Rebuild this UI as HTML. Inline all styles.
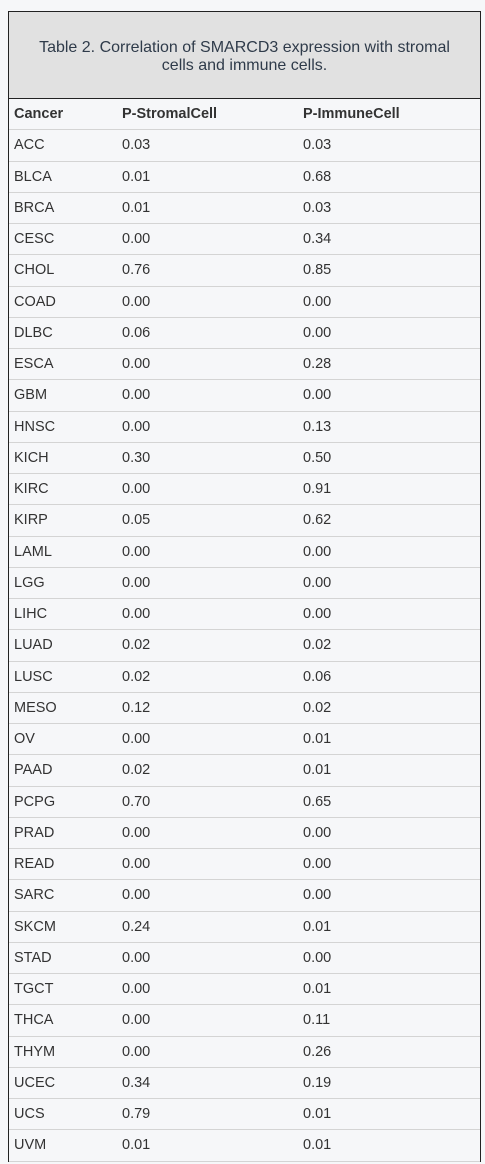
<!DOCTYPE html>
<html><head><meta charset="utf-8"><style>
html,body{margin:0;padding:0;background:#f6f7f9;width:485px;height:1164px;overflow:hidden;font-family:"Liberation Sans",Arial,sans-serif;color:#333;}
.wrap{position:absolute;left:8px;top:11px;width:471px;border:1px solid #222;border-bottom:none;}
.cap{height:87px;background:#e1e1e1;border-bottom:1px solid #222;display:flex;align-items:center;justify-content:center;text-align:center;font-size:16px;line-height:18px;padding:4px 20px 0;color:#2f3b4a;box-sizing:border-box;}
table{border-collapse:collapse;width:100%;font-size:14.5px;}
td,th{height:30.25px;padding:0 0 0 5px;text-align:left;border-bottom:1px solid #d4d4d4;}
th{font-weight:bold;}
col.a{width:108px}col.b{width:181px}
</style></head><body>
<div class="wrap">
<div class="cap">Table 2. Correlation of SMARCD3 expression with stromal cells and immune cells.</div>
<table>
<colgroup><col class="a"><col class="b"><col></colgroup>
<thead><tr><th>Cancer</th><th>P-StromalCell</th><th>P-ImmuneCell</th></tr></thead>
<tbody id="tb"></tbody></table></div>
<script>
const cancers=["ACC","BLCA","BRCA","CESC","CHOL","COAD","DLBC","ESCA","GBM","HNSC","KICH","KIRC","KIRP","LAML","LGG","LIHC","LUAD","LUSC","MESO","OV","PAAD","PCPG","PRAD","READ","SARC","SKCM","STAD","TGCT","THCA","THYM","UCEC","UCS","UVM"];
const stromal=["0.03","0.01","0.01","0.00","0.76","0.00","0.06","0.00","0.00","0.00","0.30","0.00","0.05","0.00","0.00","0.00","0.02","0.02","0.12","0.00","0.02","0.70","0.00","0.00","0.00","0.24","0.00","0.00","0.00","0.00","0.34","0.79","0.01"];
const immune=["0.03","0.68","0.03","0.34","0.85","0.00","0.00","0.28","0.00","0.13","0.50","0.91","0.62","0.00","0.00","0.00","0.02","0.06","0.02","0.01","0.01","0.65","0.00","0.00","0.00","0.01","0.00","0.01","0.11","0.26","0.19","0.01","0.01"];
const tb=document.getElementById('tb');
cancers.forEach((c,i)=>{
const tr=document.createElement('tr');


[c,stromal[i],immune[i]].forEach((v,j)=>{
const td=document.createElement('td');
td.textContent=v;


tr.appendChild(td);});
tb.appendChild(tr);});
</script>
</body></html>
